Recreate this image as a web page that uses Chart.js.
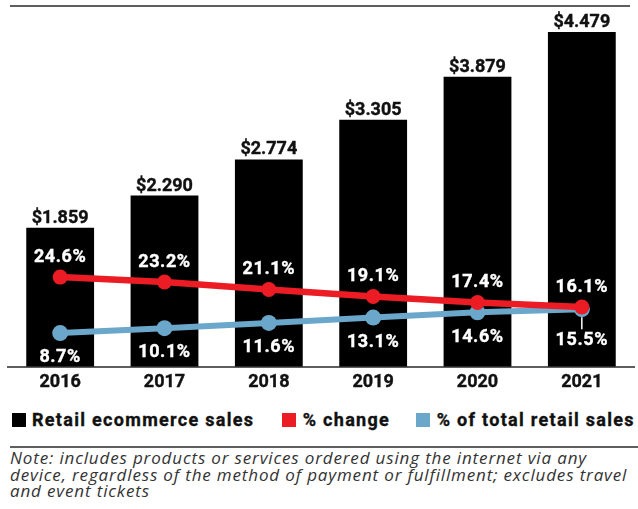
<!DOCTYPE html>
<html>
<head>
<meta charset="utf-8">
<script src="https://cdn.jsdelivr.net/npm/chart.js@4"></script>
<style>
    html, body { margin: 0; padding: 0; background: #fff; }
    #wrap { position: relative; width: 638px; height: 509px; overflow: hidden; }
    #chart { position: absolute; left: 0; top: 0; }
    .rule { position: absolute; left: 10px; right: 0; height: 2px; background: #5e5e5e; }
    .swatch { position: absolute; top: 412.5px; width: 14px; height: 14px; }
    .key { position: absolute; top: 410.7px; font: 700 18px/18px Roboto, sans-serif; letter-spacing: 1.3px;
           -webkit-text-stroke: 0.35px #111; color: #111; white-space: nowrap; }
    #note { position: absolute; left: 10px; top: 450px; font: italic 17px/16.7px "Open Sans", sans-serif;
            letter-spacing: 0.85px; color: #333; white-space: nowrap; }
</style>
</head>
<body>
<div id="wrap">
    <div class="rule" style="top:5px; right:8px"></div>
    <canvas id="chart" width="642" height="400"></canvas>

    <div class="swatch" style="left:12px;background:#000"></div>
    <div class="key" style="left:32px">Retail ecommerce sales</div>
    <div class="swatch" style="left:282px;background:#ec1c24"></div>
    <div class="key" style="left:302.7px">% change</div>
    <div class="swatch" style="left:416px;background:#6ba7cb"></div>
    <div class="key" style="left:436.7px">% of total retail sales</div>

    <div class="rule" style="top:446px"></div>
    <div id="note">Note: includes products or services ordered using the internet via any<br>device, regardless of the method of payment or fulfillment; excludes travel<br>and event tickets</div>
</div>

<script>
const years = ['2016', '2017', '2018', '2019', '2020', '2021'];
const salesTrillions = [1.859, 2.290, 2.774, 3.305, 3.879, 4.479];
const pctChange = [24.6, 23.2, 21.1, 19.1, 17.4, 16.1];
const pctOfTotal = [8.7, 10.1, 11.6, 13.1, 14.6, 15.5];

const RED = '#ec1c24';
const BLUE = '#6ba7cb';

// dollar values above the bars, white percentages next to the points
const valueLabels = {
    id: 'valueLabels',
    afterDatasetsDraw(chart) {
        const ctx = chart.ctx;
        const bars = chart.getDatasetMeta(0).data;
        const redPts = chart.getDatasetMeta(1).data;
        const bluePts = chart.getDatasetMeta(2).data;

        ctx.save();
        ctx.textAlign = 'center';
        ctx.textBaseline = 'alphabetic';
        ctx.font = '700 18px Roboto';
        ctx.fillStyle = '#111';
        ctx.strokeStyle = '#111';
        ctx.lineWidth = 0.4;
        bars.forEach((bar, i) => {
            const txt = '$' + salesTrillions[i].toFixed(3);
            ctx.fillText(txt, bar.x, bar.y - 5);
            ctx.strokeText(txt, bar.x, bar.y - 5);
        });

        ctx.fillStyle = '#fff';
        ctx.strokeStyle = '#fff';
        ctx.letterSpacing = '0.6px';
        ctx.lineWidth = 0.4;
        const label = (txt, x, y) => {
            ctx.fillText(txt, x, y);
            ctx.strokeText(txt, x, y);
        };
        redPts.forEach((pt, i) => {
            label(pctChange[i].toFixed(1) + '%', pt.x, pt.y - 15);
        });
        bluePts.forEach((pt, i) => {
            let off = 29.3;
            // points sit on top of each other -> push the label down and add a leader
            if (Math.abs(pt.y - redPts[i].y) < 5) {
                off = 36;
                ctx.lineWidth = 1.5;
                ctx.beginPath();
                ctx.moveTo(pt.x, pt.y + 8);
                ctx.lineTo(pt.x, pt.y + 20);
                ctx.stroke();
                ctx.lineWidth = 0.4;
            }
            label(pctOfTotal[i].toFixed(1) + '%', pt.x, pt.y + off);
        });
        ctx.restore();
    }
};

new Chart(document.getElementById('chart').getContext('2d'), {
    data: {
        labels: years,
        datasets: [{
            type: 'bar',
            label: 'Retail ecommerce sales',
            data: salesTrillions,
            backgroundColor: '#000',
            barPercentage: 0.65,
            categoryPercentage: 1,
            yAxisID: 'y',
            order: 3
        }, {
            type: 'line',
            label: '% change',
            data: pctChange,
            borderColor: RED,
            backgroundColor: RED,
            borderWidth: 6.5,
            pointRadius: 7.5,
            pointBorderWidth: 0,
            tension: 0,
            yAxisID: 'y2',
            order: 1
        }, {
            type: 'line',
            label: '% of total retail sales',
            data: pctOfTotal,
            borderColor: BLUE,
            backgroundColor: BLUE,
            borderWidth: 6,
            pointRadius: 8,
            pointBorderWidth: 0,
            tension: 0,
            yAxisID: 'y2',
            order: 2
        }]
    },
    options: {
        responsive: false,
        animation: false,
        layout: { padding: { left: 5, right: 0, top: 32, bottom: 1.7 } },
        plugins: {
            legend: { display: false },
            tooltip: { enabled: false }
        },
        scales: {
            x: {
                offset: true,
                grid: { display: false, drawTicks: false },
                border: { display: true, color: '#5e5e5e', width: 2 },
                ticks: {
                    color: '#111',
                    padding: 5,
                    textStrokeColor: '#111',
                    textStrokeWidth: 0.4,
                    font: { family: 'Roboto', size: 18, weight: '700' }
                }
            },
            y: { display: false, min: 0, max: 4.479 },
            y2: { display: false, min: -0.84, max: 94.2 }
        }
    },
    plugins: [valueLabels]
});
</script>
</body>
</html>
